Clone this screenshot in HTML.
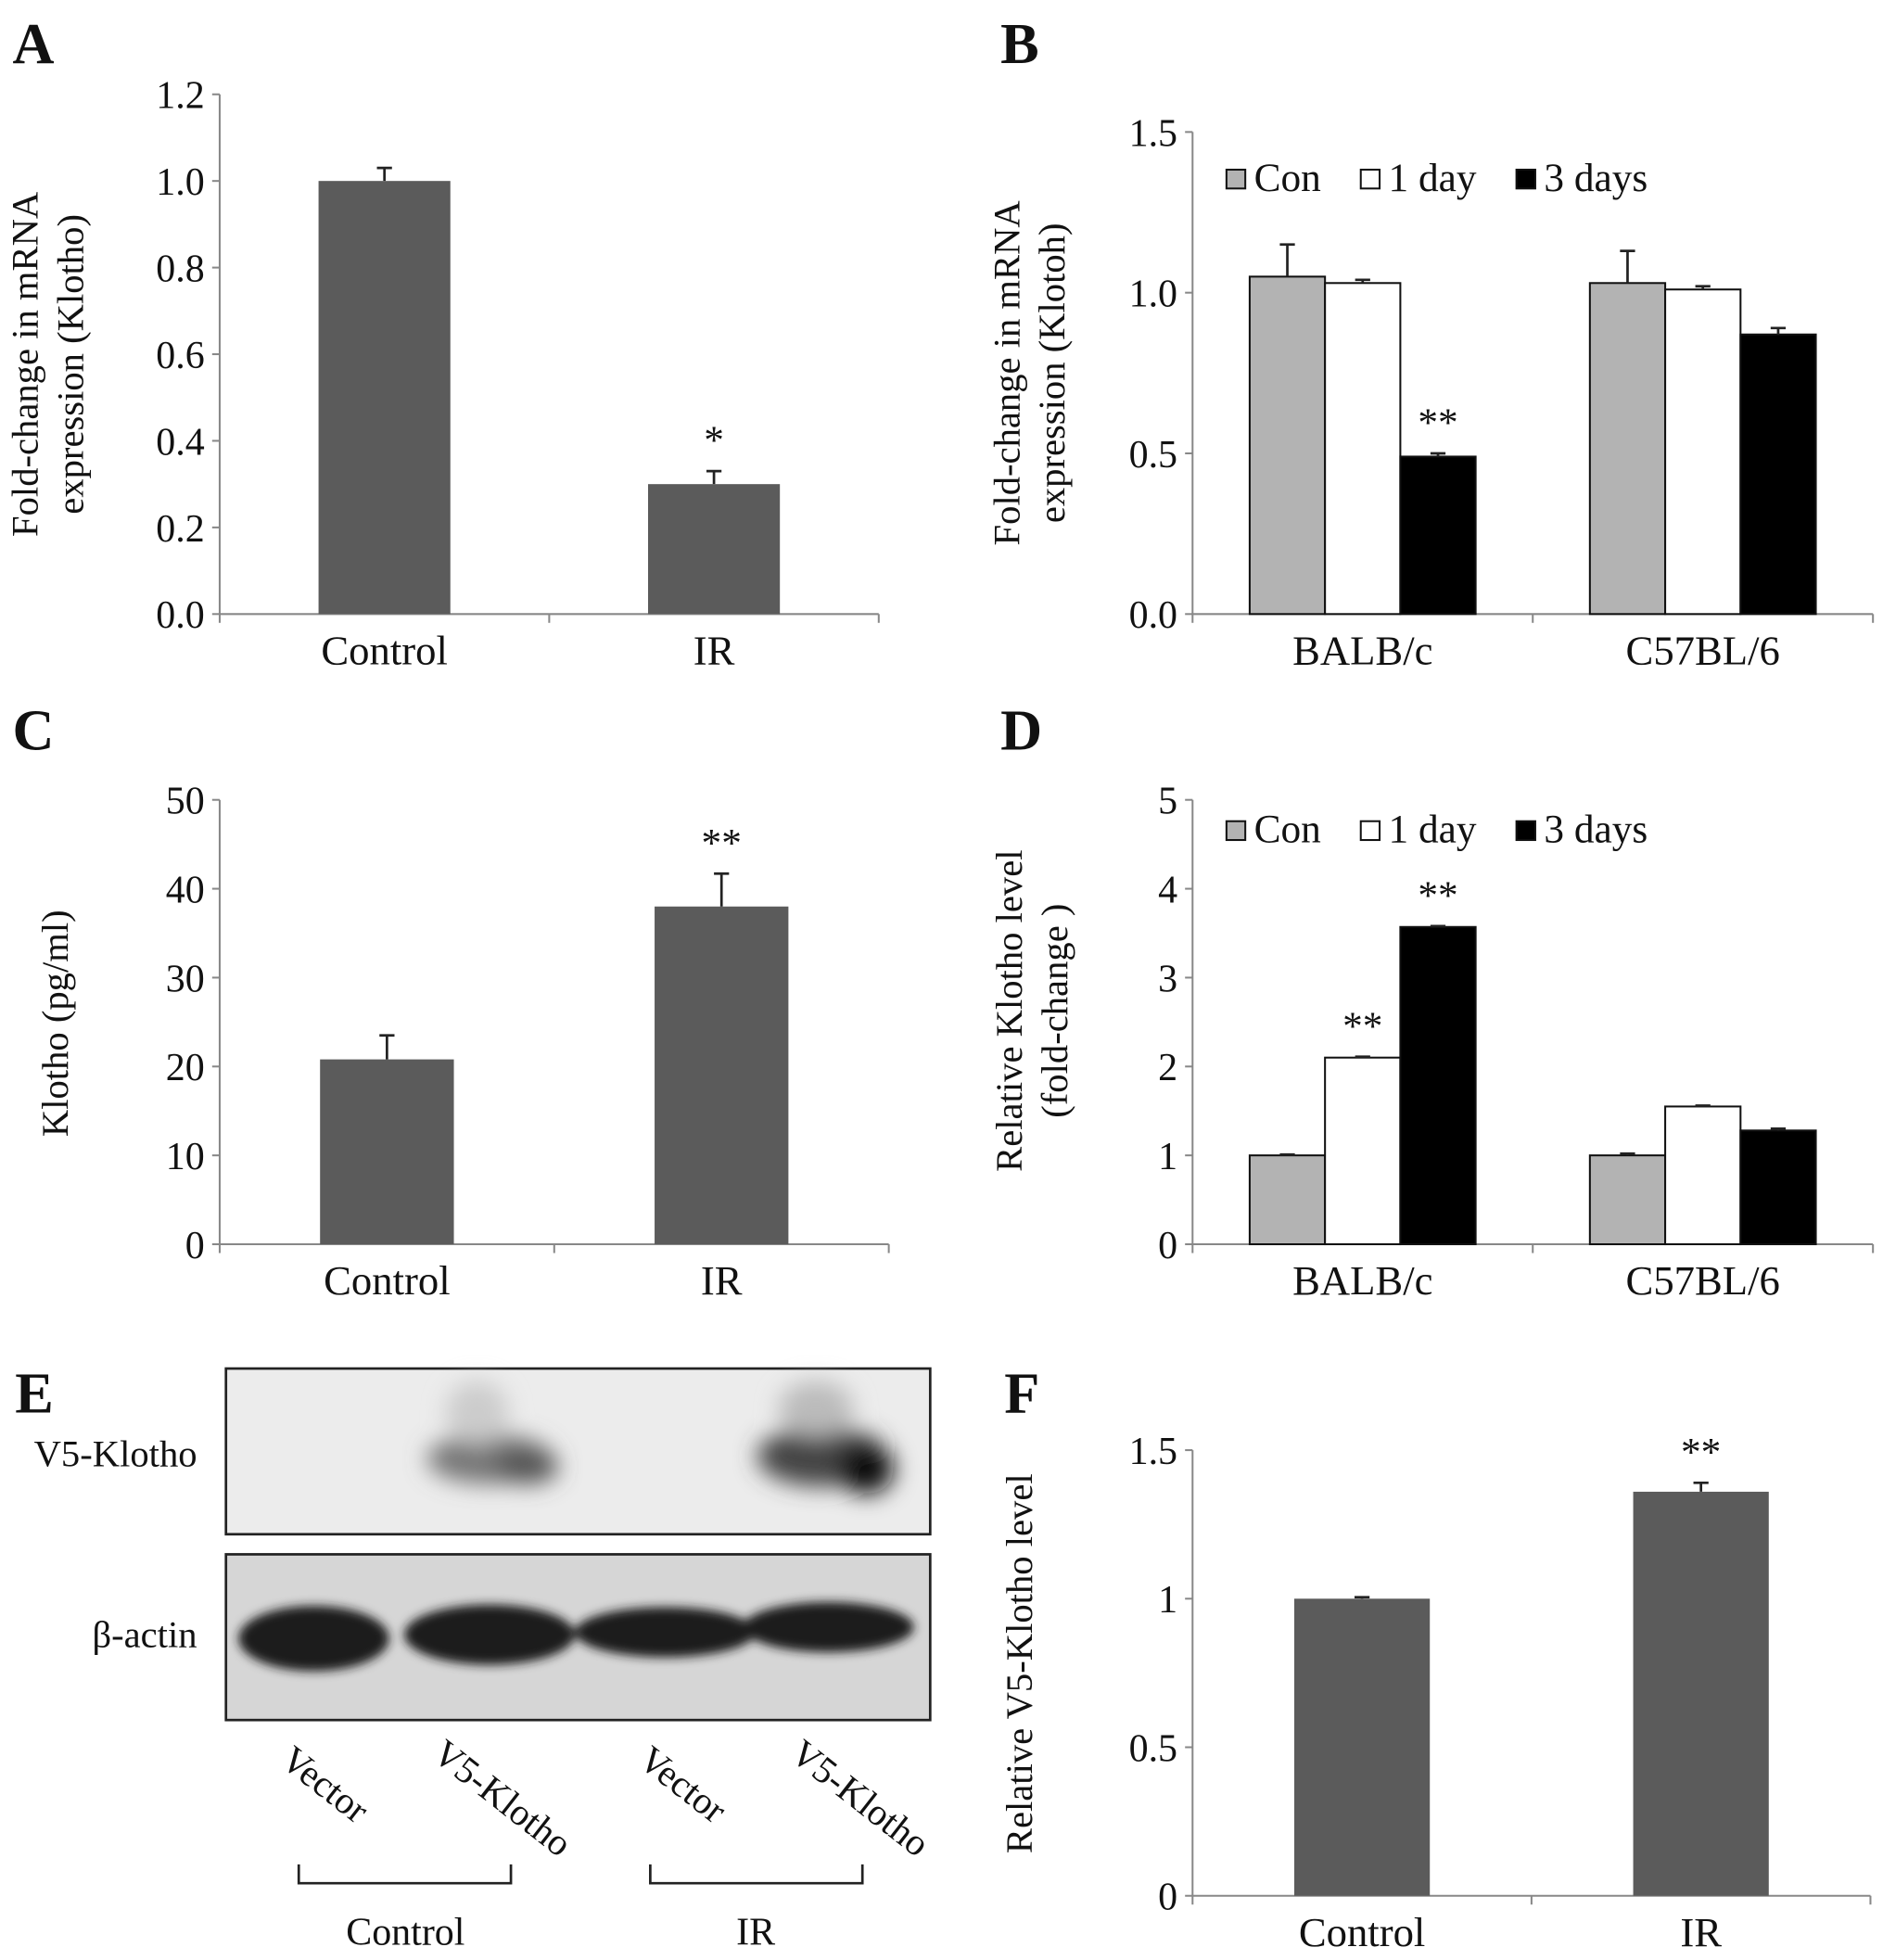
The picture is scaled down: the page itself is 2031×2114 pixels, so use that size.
<!DOCTYPE html>
<html><head><meta charset="utf-8"><style>
html,body{margin:0;padding:0;background:#fff}
svg{display:block}
svg text{font-family:"Liberation Serif","DejaVu Serif",serif !important;fill:#111}
</style></head><body>
<svg id="fig" width="2031" height="2114" viewBox="0 0 1500 1561" xmlns="http://www.w3.org/2000/svg" font-family="Liberation Serif, DejaVu Serif, serif">
<defs>
<filter id="blur8" x="-50%" y="-50%" width="200%" height="200%"><feGaussianBlur stdDeviation="9"/></filter>
<filter id="blur4" x="-50%" y="-50%" width="200%" height="200%"><feGaussianBlur stdDeviation="4"/></filter>
</defs>
<g id="root"></g>
<g>
<text x="12" y="1125" font-size="46" font-weight="bold">E</text>
<rect x="180" y="1090" width="561" height="132" fill="#ececec" stroke="#222" stroke-width="2"/>
<g filter="url(#blur8)">
<ellipse cx="390" cy="1162" rx="50" ry="20" fill="#777"/>
<ellipse cx="420" cy="1168" rx="25" ry="14" fill="#555"/>
<ellipse cx="655" cy="1160" rx="52" ry="24" fill="#444"/>
<ellipse cx="690" cy="1170" rx="22" ry="20" fill="#111"/>
<ellipse cx="380" cy="1125" rx="25" ry="25" fill="#ccc"/>
<ellipse cx="650" cy="1122" rx="30" ry="22" fill="#bbb"/>
</g>
<rect x="180" y="1238" width="561" height="132" fill="#d6d6d6" stroke="#222" stroke-width="2"/>
<g filter="url(#blur4)">
<ellipse cx="250" cy="1305" rx="60" ry="26" fill="#1a1a1a"/>
<ellipse cx="390" cy="1302" rx="68" ry="24" fill="#1a1a1a"/>
<ellipse cx="530" cy="1300" rx="72" ry="20" fill="#1a1a1a"/>
<ellipse cx="660" cy="1296" rx="68" ry="20" fill="#1a1a1a"/>
</g>
<text x="157" y="1168" font-size="30" text-anchor="end">V5-Klotho</text>
<text x="157" y="1312" font-size="30" text-anchor="end">β-actin</text>
<text transform="translate(222,1405) rotate(38)" font-size="30">Vector</text>
<text transform="translate(343,1400) rotate(38)" font-size="30">V5-Klotho</text>
<text transform="translate(507,1405) rotate(38)" font-size="30">Vector</text>
<text transform="translate(628,1400) rotate(38)" font-size="30">V5-Klotho</text>
<path d="M238 1485 V1500 H407 V1485" fill="none" stroke="#222" stroke-width="2"/>
<path d="M518 1485 V1500 H687 V1485" fill="none" stroke="#222" stroke-width="2"/>
<text x="323" y="1549" font-size="31" text-anchor="middle">Control</text>
<text x="602" y="1549" font-size="31" text-anchor="middle">IR</text>
</g>
</svg>
<script>
// Panel A data
const aCats=["Control","IR"];
const aVals=[1.0,0.30];
const aErrs=[0.03,0.03];
const aTicks=["0.0","0.2","0.4","0.6","0.8","1.0","1.2"];
// Panel B data
const bCats=["BALB/c","C57BL/6"];
const bSeries=["Con","1 day","3 days"];
const bCon=[1.05,1.03];
const b1day=[1.03,1.01];
const b3day=[0.49,0.87];
const bConErr=[0.10,0.10];
const b1dayErr=[0.01,0.01];
const b3dayErr=[0.01,0.02];
const bTicks=["0.0","0.5","1.0","1.5"];
// Panel C data
const cCats=["Control","IR"];
const cVals=[20.8,38.0];
const cErrs=[2.7,3.7];
const cTicks=["0","10","20","30","40","50"];
// Panel D data
const dCats=["BALB/c","C57BL/6"];
const dCon=[1.0,1.0];
const d1day=[2.1,1.55];
const d3day=[3.57,1.28];
const dConErr=[0.01,0.02];
const d1dayErr=[0.01,0.01];
const d3dayErr=[0.01,0.02];
const dTicks=["0","1","2","3","4","5"];
// Panel F data
const fCats=["Control","IR"];
const fVals=[1.0,1.36];
const fErrs=[0.005,0.03];
const fTicks=["0","0.5","1","1.5"];

const NS="http://www.w3.org/2000/svg";
const root=document.getElementById('root');
function mk(tag,attrs,parent){const e=document.createElementNS(NS,tag);for(const k in attrs)e.setAttribute(k,attrs[k]);(parent||root).appendChild(e);return e;}
function txt(s,attrs,parent){const e=mk('text',attrs,parent);e.textContent=s;return e;}

function axes(g,x0,x1,yTop,yBot,ticks,maxV,ncat){
  const y=v=>yBot-(v/maxV)*(yBot-yTop);
  let l=mk('line',{x1:x0,y1:yTop,x2:x0,y2:yBot,stroke:'#888','stroke-width':1.5},g);
  
  l=mk('line',{x1:x0,y1:yBot,x2:x1,y2:yBot,stroke:'#888','stroke-width':1.5},g);
  
  ticks.forEach(t=>{const yy=y(parseFloat(t));
    const tk=mk('line',{x1:x0-6,y1:yy,x2:x0,y2:yy,stroke:'#888','stroke-width':1.5},g);
    
    const tl=txt(t,{x:x0-12,y:yy+11,'font-size':31,'text-anchor':'end'},g);
    
  });
  for(let i=0;i<=ncat;i++){const xx=x0+(x1-x0)*i/ncat;
    const tk=mk('line',{x1:xx,y1:yBot,x2:xx,y2:yBot+7,stroke:'#888','stroke-width':1.5},g);
    }
  return y;
}
function bar(g,x,w,v,y,yBot,fill,name){
  const r=mk('rect',{x:x,y:y(v),width:w,height:yBot-y(v),fill:fill,stroke:fill==='#5b5b5b'?'none':'#111','stroke-width':1.5},g);
  
}
function err(g,cx,v,e,y){
  const p=mk('path',{d:`M${cx} ${y(v)} V${y(v+e)} M${cx-6} ${y(v+e)} H${cx+6}`,stroke:'#222','stroke-width':2,fill:'none'},g);
  
}
function label(g,s,x,y,size,name,bold){const t=txt(s,{x:x,y:y,'font-size':size,'text-anchor':'middle','font-weight':bold?'bold':'normal'},g);
  return t;}
function ytitle(g,lines,cx,cy,name){lines.forEach((s,i)=>{const t=txt(s,{transform:`translate(${cx+i*36},${cy}) rotate(-90)`,'font-size':30,'text-anchor':'middle'},g);
  });}
function panelLetter(g,s,x,y,name){const t=txt(s,{x:x,y:y,'font-size':46,'font-weight':'bold'},g);
  }

function simple(name,letter,lx,ly,x0,x1,yTop,yBot,ticks,maxV,cats,vals,errs,stars,title,tcx,tcy){
  const g=mk('g',{});
  panelLetter(g,letter,lx,ly,'panel-label-'+letter.toLowerCase());
  const y=axes(g,x0,x1,yTop,yBot,ticks,maxV,cats.length);
  const cw=(x1-x0)/cats.length, bw=cw*0.4;
  cats.forEach((c,i)=>{const cx=x0+cw*(i+0.5);
    bar(g,cx-bw/2,bw,vals[i],y,yBot,'#5b5b5b','bar-'+c.toLowerCase());
    err(g,cx,vals[i],errs[i],y);
    if(stars[i]) label(g,stars[i],cx,y(vals[i]+errs[i])-14,32,'significance-marker');
    label(g,c,cx,yBot+40,33,'x-label-'+c.toLowerCase());
  });
  ytitle(g,title,tcx,tcy,'y-axis-title');
}
function grouped(name,letter,lx,ly,x0,x1,yTop,yBot,ticks,maxV,cats,s1,s2,s3,e1,e2,e3,stars,legY,title,tcx,tcy){
  const g=mk('g',{});
  panelLetter(g,letter,lx,ly,'panel-label-'+letter.toLowerCase());
  const y=axes(g,x0,x1,yTop,yBot,ticks,maxV,cats.length);
  const cw=(x1-x0)/cats.length, bw=60;
  const fills=['#b3b3b3','#ffffff','#000000'];
  const series=[s1,s2,s3], errs=[e1,e2,e3];
  cats.forEach((c,i)=>{const cx=x0+cw*(i+0.5);
    series.forEach((s,k)=>{const bx=cx-1.5*bw+k*bw;
      bar(g,bx,bw,s[i],y,yBot,fills[k],'bar-'+c.toLowerCase()+'-'+bSeries[k].replace(' ','-'));
      if(errs[k]) err(g,bx+bw/2,s[i],errs[k][i],y);
      const st=stars[k][i];
      if(st) label(g,st,bx+bw/2,y(s[i]+(errs[k]?errs[k][i]:0))-14,32,'significance-marker');
    });
    label(g,c,cx,yBot+40,33,'x-label-'+c.toLowerCase().replace('/','-'));
  });
  const lx0=[x0+27,x0+134,x0+258];
  bSeries.forEach((s,k)=>{
    const r=mk('rect',{x:lx0[k],y:legY-10,width:15,height:15,fill:fills[k],stroke:'#111','stroke-width':1.5},g);
    
    const t=txt(s,{x:lx0[k]+22,y:legY+7,'font-size':32},g);
    
  });
  ytitle(g,title,tcx,tcy,'y-axis-title');
}
simple('panel-a','A',10,50,175,700,75,489,aTicks,1.2,aCats,aVals,aErrs,['','*'],['Fold-change in mRNA','expression (Klotho)'],30,290);
grouped('panel-b','B',797,50,950,1492,105,489,bTicks,1.5,bCats,bCon,b1day,b3day,bConErr,b1dayErr,b3dayErr,[['',''],['',''],['**','']],145,['Fold-change in mRNA','expression (Klotoh)'],812,297);
simple('panel-c','C',10,597,175,708,637,991,cTicks,50,cCats,cVals,cErrs,['','**'],['Klotho  (pg/ml)'],54,815);
grouped('panel-d','D',797,597,950,1492,637,991,dTicks,5,dCats,dCon,d1day,d3day,dConErr,d1dayErr,d3dayErr,[['',''],['**',''],['**','']],664,['Relative Klotho level','(fold-change )'],814,805);
simple('panel-f','F',800,1125,950,1490,1155,1510,fTicks,1.5,fCats,fVals,fErrs,['','**'],['Relative V5-Klotho level'],822,1325);
</script>
</body></html>
